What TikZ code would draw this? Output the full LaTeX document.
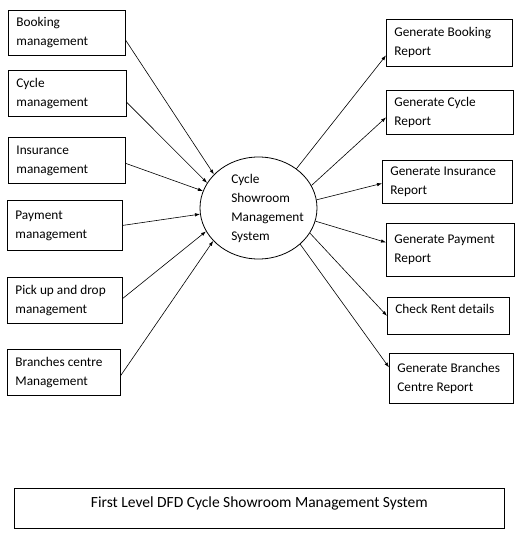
\documentclass[tikz,border=0pt]{standalone}
\usepackage{fontspec}
\setmainfont{Carlito}
\usetikzlibrary{shapes.geometric,arrows.meta}
\tikzset{
  dfdbox/.style 2 args={rectangle, draw=black, line width=0.8pt, anchor=north west,
                align=flush left, inner xsep=8pt, inner ysep=0pt, text width=#1,
                minimum height=#2, font=\fontsize{13.3}{19}\selectfont},
  procnode/.style={ellipse, draw=black, line width=0.8pt, inner sep=0pt,
                minimum width=117pt, minimum height=102pt},
  flow/.style={line width=0.6pt, draw=black, -{Latex[length=5pt,width=3.5pt]}}
}
\begin{document}
\begin{tikzpicture}[x=1pt, y=-1pt]
  \useasboundingbox (0,0) rectangle (516,545);
  % external entities (left)
  \node[dfdbox={101pt}{45pt}] (bk) at (8,10)  {Booking\\management};
  \node[dfdbox={102pt}{46pt}] (cy) at (8,70)  {Cycle\\management};
  \node[dfdbox={101pt}{46pt}] (in) at (8,137) {Insurance\\management};
  \node[dfdbox={99pt}{50pt}]  (pm) at (7,200) {Payment\\management};
  \node[dfdbox={99pt}{46pt}]  (pk) at (7,277) {Pick up and drop\\management};
  \node[dfdbox={97pt}{46pt}]  (br) at (7,349) {Branches centre\\Management};
  % process
  \node[procnode, label={[align=flush left, xshift=9pt, font=\fontsize{13.3}{19}\selectfont]center:Cycle\\Showroom\\Management\\System}] (sys) at (258.5,208) {};
  % outputs (right)
  \node[dfdbox={110pt}{47pt}] (gb)  at (386,19)  {Generate Booking\\Report};
  \node[dfdbox={111pt}{44pt}] (gc)  at (386,90)  {Generate Cycle\\Report};
  \node[dfdbox={114pt}{43pt}] (gi)  at (382,160) {Generate Insurance\\Report};
  \node[dfdbox={112pt}{53pt}] (gp)  at (386,223) {Generate Payment\\Report};
  \node[dfdbox={106pt}{37pt}, text depth=14pt] (cr) at (387,297) {Check Rent details};
  \node[dfdbox={108pt}{50pt}] (gbr) at (389,353) {Generate Branches\\Centre Report};
  % caption
  \node[rectangle, draw=black, line width=0.8pt, anchor=north west, minimum width=490pt,
        minimum height=40pt, text depth=12pt, font=\fontsize{15.5}{19}\selectfont] (ttl) at (14,488)
        {First Level DFD Cycle Showroom Management System};
  % data flows in
  \draw[flow] ([yshift=-7.5pt]bk.east) -- (sys.143);
  \draw[flow] ([yshift=-9pt]cy.east) -- (sys.154);
  \draw[flow] ([yshift=-3pt]in.east) -- (sys.163);
  \draw[flow] (pm.east) -- (sys.186);
  \draw[flow] ([yshift=2pt]pk.east) -- (sys.204);
  \draw[flow] ([yshift=-3pt]br.east) -- (sys.216);
  % data flows out
  \draw[flow] (sys.46)  -- ([yshift=-12.5pt]gb.west);
  \draw[flow] (sys.23)  -- ([yshift=-5pt]gc.west);
  \draw[flow] (sys.8)   -- ([yshift=-1.5pt]gi.west);
  \draw[flow] (sys.347) -- ([yshift=7.5pt]gp.west);
  \draw[flow] (sys.334) -- (cr.west);
  \draw[flow] (sys.319) -- ([yshift=11pt]gbr.west);
\end{tikzpicture}
\end{document}
